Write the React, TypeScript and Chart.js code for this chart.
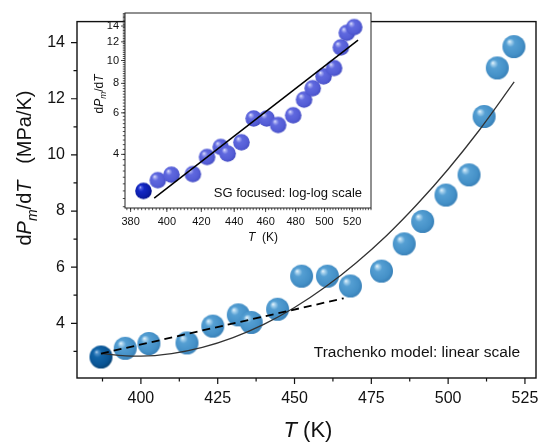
import { useEffect, useRef } from 'react';
import { Chart, registerables, Plugin } from 'chart.js';

Chart.register(...registerables);

const FONT = "'Liberation Sans', Arial, sans-serif";

// measured points (T in K, dPm/dT in MPa/K)
const temps = [387, 394.9, 402.6, 415, 423.4, 431.7, 435.9, 444.5, 452.3, 460.7, 468.2, 478.3, 485.7, 491.7, 499.3, 506.8, 511.7, 516, 521.4];
const slopes = [2.8, 3.11, 3.28, 3.3, 3.9, 4.3, 4.03, 4.5, 5.68, 5.68, 5.33, 5.86, 6.83, 7.63, 8.57, 9.29, 11.37, 13.1, 13.86];

// Trachenko model curve
const fitT = [387, 395, 400, 410, 420, 430, 440, 450, 460, 470, 480, 490, 500, 510, 521.5];
const fitV = [2.92, 2.84, 2.83, 2.92, 3.14, 3.49, 3.96, 4.56, 5.29, 6.15, 7.13, 8.25, 9.49, 10.86, 12.6];

// dashed low-T trend
const dashT = [387, 466];
const dashV = [2.92, 4.89];

// inset power law (straight on log-log)
const powT = [392.9, 524.3];
const powV = [2.61, 12.2];

// tick values
const mainXTicks = [400, 425, 450, 475, 500, 525];
const mainXMinor = [387.5, 412.5, 437.5, 462.5, 487.5, 512.5];
const mainYTicks = [4, 6, 8, 10, 12, 14];
const mainYMinor = [3, 5, 7, 9, 11, 13];
const insetXTicks = [380, 400, 420, 440, 460, 480, 500, 520];
const insetYTicks = [4, 6, 8, 10, 12, 14];

const range = (a: number, b: number, step: number) => {
    const out: number[] = [];
    for (let v = a; v <= b + 1e-9; v += step) out.push(Math.round(v * 100) / 100);
    return out;
};
const insetXMinor = range(378, 534, 2);
const insetYMinor = range(2.4, 15.8, 0.2);

const pts = (xs: number[], ys: number[]) => xs.map((x, i) => ({ x, y: ys[i] }));

function sphere(r: number, stops: [number, string][]) {
    const c = document.createElement('canvas');
    const s = Math.ceil(2 * r + 2);
    c.width = s;
    c.height = s;
    const g = c.getContext('2d')!;
    const cx = s / 2, cy = s / 2;
    const grad = g.createRadialGradient(cx - r * 0.4, cy - r * 0.45, 0, cx - r * 0.1, cy - r * 0.1, r * 1.1);
    stops.forEach(([o, col]) => grad.addColorStop(o, col));
    g.fillStyle = grad;
    g.beginPath();
    g.arc(cx, cy, r, 0, Math.PI * 2);
    g.fill();
    return c;
}

type Seg = { t: string; i?: boolean; sub?: boolean };
type RichItem = { segs: Seg[]; x: number; y: number; size: number; align: 'center' | 'right'; rotate?: boolean };

const segFont = (s: Seg, size: number) => `${s.i ? 'italic ' : ''}${s.sub ? size * 0.7 : size}px ${FONT}`;

const richText: Plugin = {
    id: 'richText',
    afterDraw(chart, _args, opts: any) {
        const ctx = chart.ctx;
        (opts.items as RichItem[]).forEach(item => {
            ctx.save();
            ctx.fillStyle = '#111';
            ctx.textBaseline = 'alphabetic';
            ctx.textAlign = 'left';
            let total = 0;
            const widths = item.segs.map(s => {
                ctx.font = segFont(s, item.size);
                const w = ctx.measureText(s.t).width;
                total += w;
                return w;
            });
            ctx.translate(item.x, item.y);
            if (item.rotate) ctx.rotate(-Math.PI / 2);
            let cur = item.align === 'center' ? -total / 2 : -total;
            item.segs.forEach((s, k) => {
                ctx.font = segFont(s, item.size);
                ctx.fillText(s.t, cur, s.sub ? item.size * 0.28 : 0);
                cur += widths[k];
            });
            ctx.restore();
        });
    }
};

const axisDecor: Plugin = {
    id: 'axisDecor',
    beforeDraw(chart, _args, opts: any) {
        if (!opts.fill) return;
        const { ctx, chartArea: a } = chart;
        ctx.save();
        ctx.fillStyle = '#ffffff';
        ctx.fillRect(a.left, a.top, a.right - a.left, a.bottom - a.top);
        ctx.restore();
    },
    afterDraw(chart, _args, opts: any) {
        const { ctx, chartArea: a, scales } = chart;
        const xs = scales.x, ys = scales.y;
        ctx.save();
        ctx.strokeStyle = opts.color;
        ctx.lineWidth = opts.width;
        ctx.strokeRect(a.left, a.top, a.right - a.left, a.bottom - a.top);
        ctx.lineWidth = opts.tickWidth;
        ctx.beginPath();
        const xt = (vals: number[], len: number) => vals.forEach(v => {
            const p = xs.getPixelForValue(v);
            if (p < a.left - 0.5 || p > a.right + 0.5) return;
            ctx.moveTo(p, a.bottom);
            ctx.lineTo(p, a.bottom + len);
        });
        const yt = (vals: number[], len: number) => vals.forEach(v => {
            const p = ys.getPixelForValue(v);
            if (p < a.top - 0.5 || p > a.bottom + 0.5) return;
            ctx.moveTo(a.left, p);
            ctx.lineTo(a.left - len, p);
        });
        xt(opts.xMinor, opts.minor);
        xt(opts.xMajor, opts.major);
        yt(opts.yMinor, opts.minor);
        yt(opts.yMajor, opts.major);
        ctx.stroke();
        ctx.restore();
    }
};

export default function App() {
    const mainRef = useRef<HTMLCanvasElement | null>(null);
    const insetRef = useRef<HTMLCanvasElement | null>(null);

    useEffect(() => {
        if (!mainRef.current || !insetRef.current) return;
        Chart.defaults.font.family = FONT;
        Chart.defaults.color = '#111';

        const blue = sphere(11.5, [[0, '#eef7fd'], [0.13, '#a9d3ee'], [0.34, '#559fd3'], [0.8, '#4591c8'], [1, '#3a82b9']]);
        const blueDark = sphere(11.5, [[0, '#c6e0f4'], [0.13, '#4d8fc9'], [0.34, '#1265a8'], [0.8, '#0a5595'], [1, '#064478']]);
        const violet = sphere(8.3, [[0, '#eef0ff'], [0.14, '#a6abf2'], [0.36, '#6069df'], [0.8, '#545dd6'], [1, '#454dc4']]);
        const violetDark = sphere(8.3, [[0, '#c8d0ff'], [0.14, '#4a5ae0'], [0.36, '#1428c4'], [0.8, '#0c1eaa'], [1, '#06128a']]);

        const main = new Chart(mainRef.current, {
            type: 'scatter',
            data: {
                datasets: [
                    {
                        type: 'line',
                        data: pts(fitT, fitV),
                        borderColor: '#333',
                        borderWidth: 1.3,
                        pointRadius: 0,
                        tension: 0.4,
                        cubicInterpolationMode: 'monotone',
                        fill: false,
                        order: 1
                    },
                    {
                        type: 'line',
                        data: pts(dashT, dashV),
                        borderColor: '#000',
                        borderWidth: 1.8,
                        borderDash: [8, 5],
                        pointRadius: 0,
                        fill: false,
                        order: 0
                    },
                    {
                        data: pts(temps, slopes),
                        pointStyle: (c: any) => (c.dataIndex === 0 ? blueDark : blue),
                        pointRadius: 11.5,
                        order: 2
                    }
                ]
            },
            options: {
                responsive: false,
                animation: false,
                events: [],
                layout: { padding: { top: 7, right: 14, left: 0, bottom: 0 } },
                plugins: {
                    legend: { display: false },
                    tooltip: { enabled: false },
                    axisDecor: {
                        color: '#111', width: 1.4, tickWidth: 1.2, major: 6, minor: 3.5,
                        xMajor: mainXTicks, xMinor: mainXMinor, yMajor: mainYTicks, yMinor: mainYMinor
                    },
                    richText: {
                        items: [
                            {
                                segs: [{ t: 'd' }, { t: 'P', i: true }, { t: 'm', i: true, sub: true }, { t: '/d' }, { t: 'T', i: true }, { t: '   (MPa/K)' }],
                                x: 31, y: 168, size: 20, align: 'center', rotate: true
                            },
                            { segs: [{ t: 'T', i: true }, { t: ' (K)' }], x: 308, y: 437, size: 22, align: 'center' },
                            { segs: [{ t: 'Trachenko model: linear scale' }], x: 520, y: 356.5, size: 15.5, align: 'right' }
                        ]
                    }
                } as any,
                scales: {
                    x: {
                        type: 'linear',
                        min: 379.2,
                        max: 528.6,
                        grid: { display: false, drawTicks: false },
                        border: { display: false },
                        afterBuildTicks: (s: any) => { s.ticks = mainXTicks.map(value => ({ value })); },
                        afterFit: (s: any) => { s.height = 70; },
                        ticks: { font: { size: 16 }, padding: 11, maxRotation: 0, autoSkip: false }
                    },
                    y: {
                        type: 'linear',
                        min: 2.05,
                        max: 14.75,
                        grid: { display: false, drawTicks: false },
                        border: { display: false },
                        afterBuildTicks: (s: any) => { s.ticks = mainYTicks.map(value => ({ value })); },
                        afterFit: (s: any) => { s.width = 77; },
                        ticks: { font: { size: 16 }, padding: 12, autoSkip: false }
                    }
                }
            },
            plugins: [axisDecor, richText]
        });

        const inset = new Chart(insetRef.current, {
            type: 'scatter',
            data: {
                datasets: [
                    {
                        type: 'line',
                        data: pts(powT, powV),
                        borderColor: '#000',
                        borderWidth: 1.5,
                        pointRadius: 0,
                        fill: false,
                        order: 0
                    },
                    {
                        data: pts(temps, slopes),
                        pointStyle: (c: any) => (c.dataIndex === 0 ? violetDark : violet),
                        pointRadius: 8.3,
                        order: 1
                    }
                ]
            },
            options: {
                responsive: false,
                animation: false,
                events: [],
                layout: { padding: { top: 13, right: 14, left: 0, bottom: 0 } },
                plugins: {
                    legend: { display: false },
                    tooltip: { enabled: false },
                    axisDecor: {
                        fill: true, color: '#222', width: 1, tickWidth: 0.8, major: 4, minor: 2.2,
                        xMajor: insetXTicks, xMinor: insetXMinor, yMajor: insetYTicks, yMinor: insetYMinor
                    },
                    richText: {
                        items: [
                            {
                                segs: [{ t: 'd' }, { t: 'P', i: true }, { t: 'm', i: true, sub: true }, { t: '/d' }, { t: 'T', i: true }],
                                x: 18, y: 94, size: 12, align: 'center', rotate: true
                            },
                            { segs: [{ t: 'T', i: true }, { t: '  (K)' }], x: 178, y: 241, size: 12, align: 'center' },
                            { segs: [{ t: 'SG focused: log-log scale' }], x: 277, y: 196.5, size: 13, align: 'right' }
                        ]
                    }
                } as any,
                scales: {
                    x: {
                        type: 'logarithmic',
                        min: 377,
                        max: 534,
                        grid: { display: false, drawTicks: false },
                        border: { display: false },
                        afterBuildTicks: (s: any) => { s.ticks = insetXTicks.map(value => ({ value })); },
                        afterFit: (s: any) => { s.height = 37; },
                        ticks: { font: { size: 11 }, padding: 7, maxRotation: 0, autoSkip: false, callback: (v: any) => String(v) }
                    },
                    y: {
                        type: 'logarithmic',
                        min: 2.37,
                        max: 15.9,
                        grid: { display: false, drawTicks: false },
                        border: { display: false },
                        afterBuildTicks: (s: any) => { s.ticks = insetYTicks.map(value => ({ value })); },
                        afterFit: (s: any) => { s.width = 40; },
                        ticks: { font: { size: 11 }, padding: 6, autoSkip: false, callback: (v: any) => String(v) }
                    }
                }
            },
            plugins: [axisDecor, richText]
        });

        return () => {
            main.destroy();
            inset.destroy();
        };
    }, []);

    return (
        <div style={{ position: 'absolute', left: 0, top: 0, width: 550, height: 448, background: '#fff' }}>
            <canvas ref={mainRef} width={550} height={448} style={{ position: 'absolute', left: 0, top: 0 }} />
            <canvas ref={insetRef} width={300} height={245} style={{ position: 'absolute', left: 85, top: 0 }} />
        </div>
    );
}
